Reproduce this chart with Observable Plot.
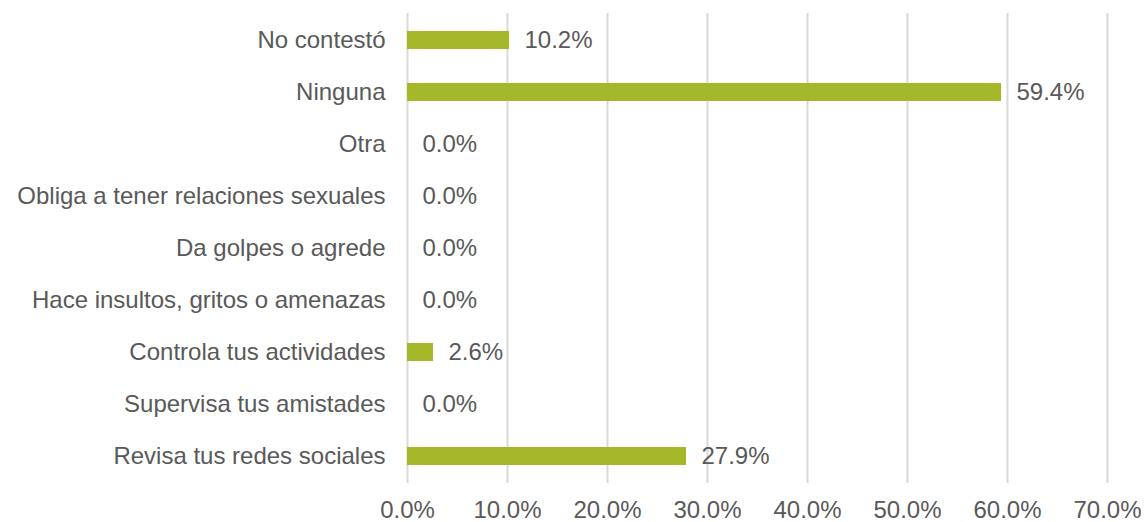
<!DOCTYPE html>
<html>
<head>
<meta charset="utf-8">
<script src="https://cdn.jsdelivr.net/npm/d3@7"></script>
<script src="https://cdn.jsdelivr.net/npm/@observablehq/plot@0.6"></script>
<style>
  html, body { margin: 0; padding: 0; background: #ffffff; }
  #chart { width: 1145px; height: 522px; }
</style>
</head>
<body>
<div id="chart"></div>
<script>
const categories = [
  "No contestó",
  "Ninguna",
  "Otra",
  "Obliga a tener relaciones sexuales",
  "Da golpes o agrede",
  "Hace insultos, gritos o amenazas",
  "Controla tus actividades",
  "Supervisa tus amistades",
  "Revisa tus redes sociales"
];
const values = [10.2, 59.4, 0.0, 0.0, 0.0, 0.0, 2.6, 0.0, 27.9];
const xTicks = [0, 10, 20, 30, 40, 50, 60, 70];

const data = categories.map((c, i) => ({category: c, value: values[i]}));
const textColor = "#595959";
const fmt = v => v.toFixed(1) + "%";

const chart = Plot.plot({
  width: 1145,
  height: 522,
  marginLeft: 407,
  marginRight: 38,
  marginTop: 13,
  marginBottom: 39,
  style: {fontFamily: "'Liberation Sans', Arial, sans-serif", fontSize: "24px", color: textColor, background: "#ffffff", overflow: "visible"},
  x: {domain: [0, 70], ticks: xTicks, tickFormat: fmt, label: null},
  y: {domain: categories, paddingInner: 0.655, paddingOuter: 0.3275, label: null},
  marks: [
    Plot.ruleX(xTicks, {stroke: "#d9d9d9", strokeWidth: 2}),
    Plot.barX(data, {x: "value", y: "category", fill: "#a5b82a"}),
    Plot.text(data, {x: "value", y: "category", text: d => fmt(d.value), textAnchor: "start", dx: 15, fill: textColor, fontSize: 24}),
    Plot.axisY({tickSize: 0, tickPadding: 22, fontSize: 24, fill: textColor}),
    Plot.axisX({tickSize: 0, tickPadding: 17, fontSize: 24, fill: textColor, tickFormat: fmt})
  ]
});
document.getElementById("chart").appendChild(chart);
</script>
</body>
</html>
